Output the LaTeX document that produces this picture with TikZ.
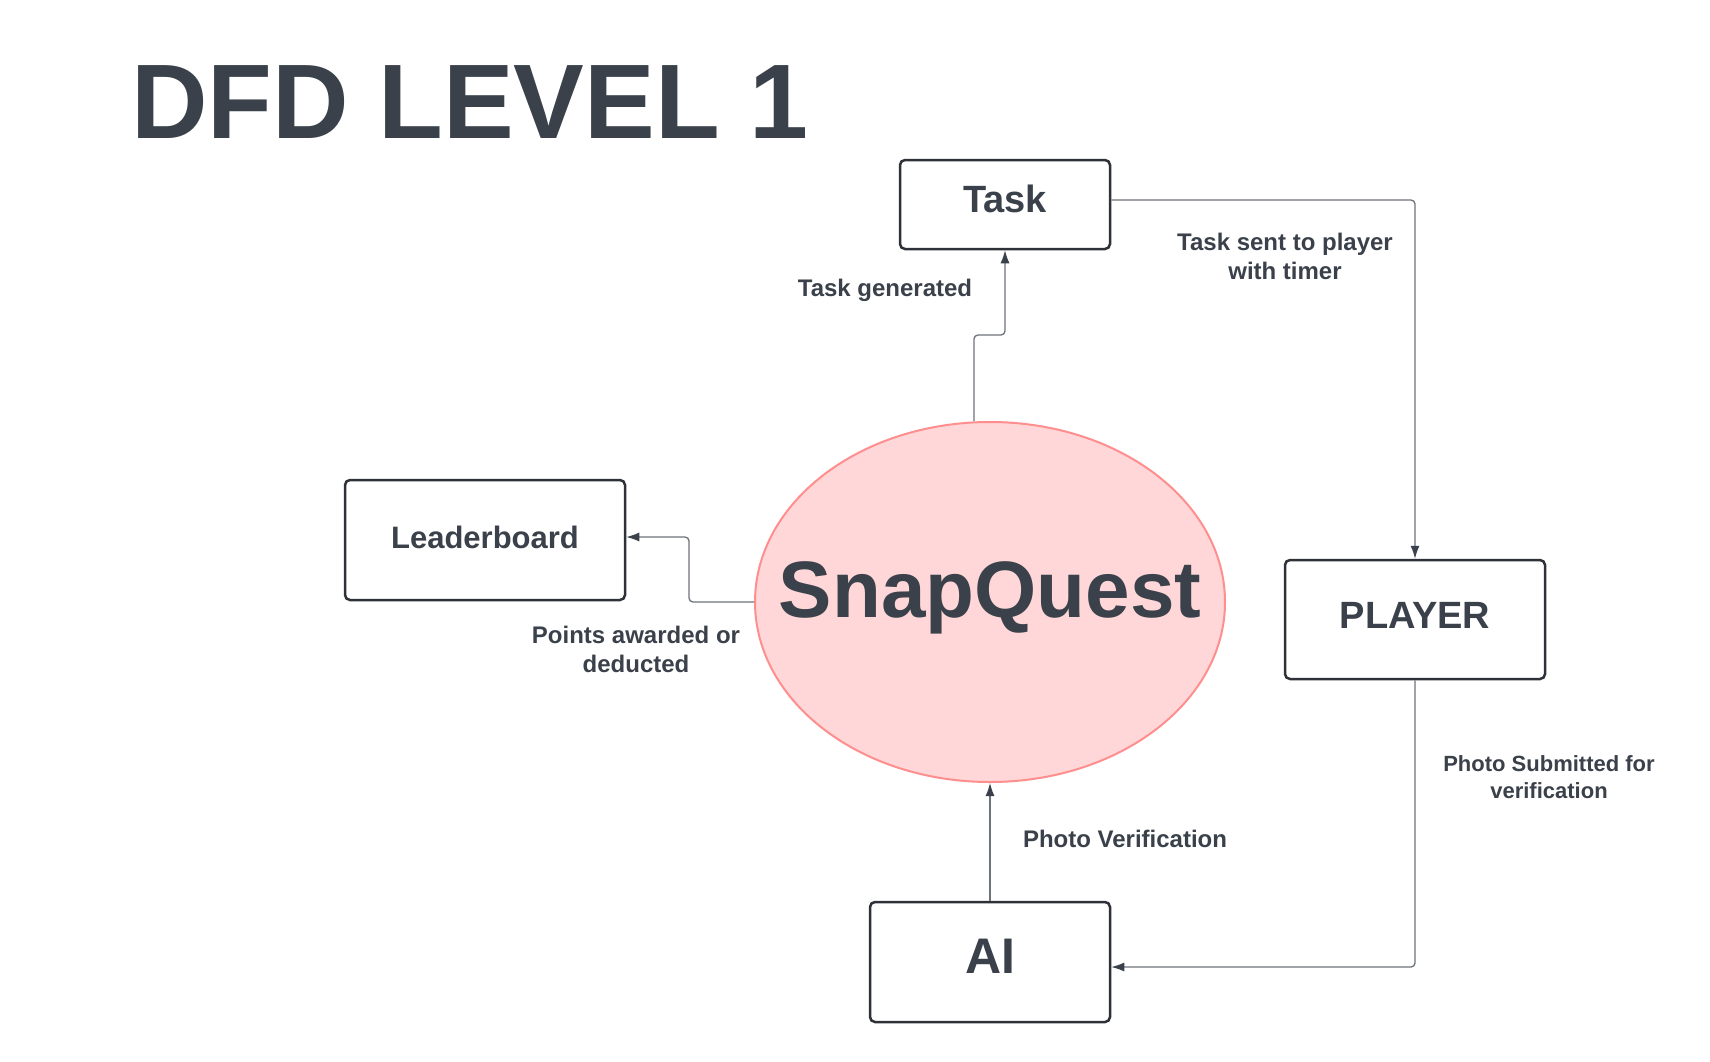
\documentclass[tikz,border=0pt]{standalone}
\usepackage{fontspec}
\setmainfont{Liberation Sans}
\usetikzlibrary{shapes,arrows.meta}
\definecolor{ink}{HTML}{3A414A}
\definecolor{edge}{HTML}{2E3238}
\definecolor{wire}{HTML}{6E7379}
\definecolor{blush}{HTML}{FFD7D8}
\definecolor{rose}{HTML}{FF8E8E}

\begin{document}
\begin{tikzpicture}[x=1pt,y=-1pt,>={Latex[length=13pt,width=9pt,color=ink]}]
				\tikzstyle{entity} = [draw=edge, line width=2.5pt, rounded corners=5pt, fill=white, text=ink, inner sep=0pt]
				\tikzstyle{big} = [entity, font=\fontsize{38}{46}\selectfont\bfseries, text depth=10pt]
				\tikzstyle{proc} = [ellipse, draw=rose, line width=2pt, fill=blush, inner ysep=0pt, inner xsep=-55pt, text=ink, font=\fontsize{80}{92}\selectfont\bfseries, text height=57pt, text depth=27pt]
				\tikzstyle{lbl} = [text=ink, font=\fontsize{24}{29}\selectfont\bfseries, align=center, inner sep=0pt]
				\tikzstyle{flow} = [->, draw=wire, line width=1.3pt, rounded corners=4pt]

				\fill[white] (0,0) rectangle (1710,1062);
				\node[anchor=base west, text=ink, inner sep=0pt, font=\fontsize{106}{120}\selectfont\bfseries] (title) at (131,139) {DFD LEVEL 1};

				\node[proc, minimum width=470pt, minimum height=360pt] (snap) at (990,602) {SnapQuest};
				\node[big, minimum width=210pt, minimum height=89pt, text depth=12pt] (task) at (1005,204.5) {Task};
				\node[entity, minimum width=280pt, minimum height=120pt, font=\fontsize{31}{38}\selectfont\bfseries, text depth=6pt] (board) at (485,540) {Leaderboard};
				\node[big, minimum width=260pt, minimum height=119pt, text depth=8pt] (player) at (1415,619.5) {PLAYER};
				\node[entity, minimum width=240pt, minimum height=120pt, font=\fontsize{50}{60}\selectfont\bfseries, text depth=12pt] (ai) at (990,962) {AI};

				\draw[flow] ([xshift=-16pt]snap.north) -- ++(0,-86) -| (task.south);
				\draw[flow] ([yshift=4.5pt]task.east) -| (player.north);
				\draw[flow] (player.south) |- ([yshift=-5pt]ai.east);
				\draw[flow] (ai.north) -- (snap.south);
				\draw[flow] (snap.west) -- ++(-65,0) |- ([yshift=3pt]board.east);

				\node[lbl] (lgen) at (885,290) {Task generated};
				\node[lbl] (lsent) at (1285,256) {Task sent to player\\with timer};
				\node[lbl] (lpts) at (636,649) {Points awarded or\\deducted};
				\node[lbl] (lver) at (1125,839) {Photo Verification};
				\node[lbl, font=\fontsize{22}{27}\selectfont\bfseries] (lsub) at (1549,777) {Photo Submitted for\\verification};
\end{tikzpicture}
\end{document}
